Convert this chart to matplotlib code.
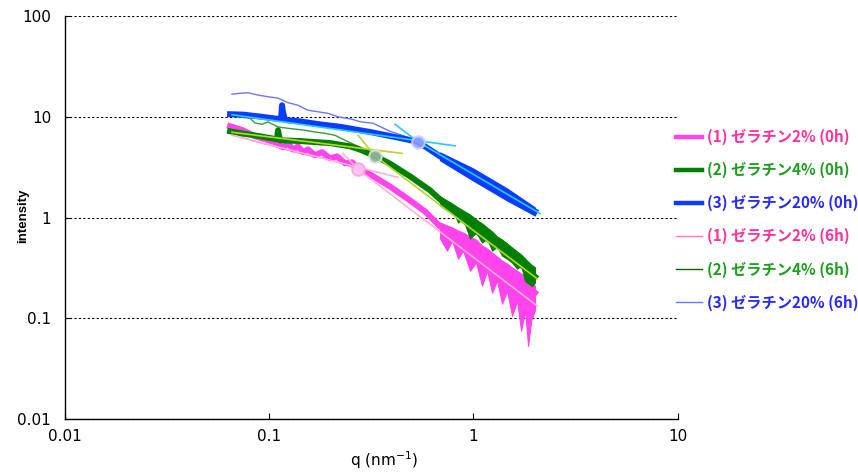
import numpy as np
import matplotlib
matplotlib.use("Agg")
import matplotlib.pyplot as plt
from matplotlib.font_manager import FontProperties

# ---------------- data (q in nm^-1, intensity) ----------------
# (3) 20% 0h
q_b0 = [0.0643, 0.0744, 0.0882, 0.1142, 0.1155, 0.1168, 0.1195, 0.1415, 0.1773, 0.2222,
        0.3116, 0.4370, 0.5355, 0.6863, 0.8598, 1.0773, 1.4606, 2.0]
i_b0 = [10.6, 10.5, 10.1, 9.44, 13.0, 11.1, 9.3, 9.0, 8.4, 7.95,
        7.06, 6.15, 5.64, 4.04, 3.14, 2.44, 1.69, 1.15]
# (2) 4% 0h
q_g0 = [0.0643, 0.0744, 0.0901, 0.1092, 0.1104, 0.1129, 0.1415, 0.1985, 0.2487, 0.2784,
        0.3297, 0.3904, 0.4893, 0.6131, 0.6863, 0.8598, 0.9955, 1.4606, 2.0]
i_g0 = [7.17, 6.81, 6.40, 5.97, 7.34, 5.84, 5.74, 5.48, 5.09, 4.72,
        4.07, 3.42, 2.56, 1.86, 1.51, 1.01, 0.777, 0.449, 0.259]
# (1) 2% 0h
q_p0 = [0.0643, 0.0744, 0.0852, 0.0954, 0.1067, 0.1168, 0.1236, 0.1308, 0.1384, 0.1464,
        0.1549, 0.1676, 0.1814, 0.1985, 0.2148, 0.2350, 0.2544, 0.2722, 0.3116, 0.3488,
        0.3904, 0.4893, 0.5794, 0.6863, 0.8598, 1.0773, 1.4606, 2.0]
i_p0 = [8.05, 7.34, 6.40, 5.97, 5.57, 4.97, 5.45, 4.74, 5.08, 4.46,
        4.74, 4.14, 4.46, 3.86, 4.05, 3.45, 3.53, 3.07, 2.68, 2.33,
        2.03, 1.476, 1.148, 0.814, 0.618, 0.469, 0.284, 0.179]

# 6h curves
q_p6 = [0.0643, 0.0761, 0.0882, 0.1067, 0.1293, 0.1549, 0.1876, 0.2273, 0.2722, 0.3488,
        0.4893, 0.6863, 1.0773, 2.0]
i_p6 = [7.34, 6.11, 5.57, 5.08, 4.54, 4.14, 3.86, 3.45, 3.0, 2.33,
        1.476, 0.814, 0.469, 0.179]
q_g6 = [0.0643, 0.0680, 0.0805, 0.0852, 0.0922, 0.0987, 0.1104, 0.1236, 0.1497, 0.1676,
        0.1876, 0.2100, 0.2350, 0.2784, 0.3297, 0.4893, 0.6863, 0.9955, 1.4606, 2.0]
i_g6 = [10.35, 10.1, 9.66, 8.67, 8.42, 8.88, 7.92, 7.68, 7.34, 7.06,
        6.85, 6.54, 5.84, 4.97, 4.14, 2.56, 1.51, 0.777, 0.449, 0.259]
q_b6 = [0.0657, 0.0719, 0.0787, 0.0882, 0.0987, 0.1104, 0.1236, 0.1384, 0.1549, 0.1734,
        0.1941, 0.2172, 0.2544, 0.2784, 0.3224, 0.3904, 0.4624, 0.5477, 0.6863, 1.0773, 2.0]
i_b6 = [16.75, 17.1, 17.3, 16.4, 15.8, 15.3, 13.8, 13.0, 11.6, 11.2,
        10.8, 10.0, 9.44, 8.92, 8.62, 7.17, 6.40, 5.57, 4.04, 2.44, 1.15]

# noisy high-q scatter envelopes
q_tail = [0.6863, 0.7424, 0.7856, 0.8406, 0.8894, 0.9624, 1.0297, 1.1019, 1.1657, 1.2334,
          1.3049, 1.3806, 1.4606, 1.5453, 1.6352, 1.7107, 1.7894, 1.8511, 1.9149, 2.0]
p_hi = [0.892, 0.833, 0.795, 0.742, 0.709, 0.647, 0.604, 0.526, 0.491, 0.449,
        0.409, 0.373, 0.349, 0.318, 0.297, 0.277, 0.259, 0.236, 0.2205, 0.21]
p_lo = [0.618, 0.469, 0.590, 0.391, 0.469, 0.297, 0.357, 0.2106, 0.297, 0.1794,
        0.236, 0.1394, 0.1878, 0.1059, 0.1493, 0.0751, 0.1187, 0.0532, 0.0944, 0.12]
g_hi = [1.618, 1.476, 1.378, 1.257, 1.174, 1.071, 0.955, 0.872, 0.795, 0.726,
        0.647, 0.604, 0.551, 0.503, 0.459, 0.429, 0.391, 0.365, 0.341, 0.32]
g_lo = [1.316, 1.174, 1.229, 0.892, 0.977, 0.618, 0.709, 0.564, 0.618, 0.469,
        0.515, 0.419, 0.391, 0.357, 0.311, 0.333, 0.236, 0.2106, 0.201, 0.226]
q_btail = [0.6863, 0.9955, 1.4606, 2.0]
b_hi = [4.43, 3.07, 1.94, 1.258]
b_lo = [3.69, 2.33, 1.476, 1.047]

# fit lines (low-q and high-q) and crossover points
fit_b_lo = ([0.0657, 0.8126], [10.47, 5.14])
fit_b_hi = ([0.4131, 0.5355, 2.119], [8.42, 5.64, 1.096])
fit_g_lo = ([0.0657, 0.4470], [7.01, 4.33])
fit_g_hi = ([0.2722, 0.3297, 2.049], [6.55, 4.09, 0.247])
fit_p_lo = ([0.0657, 0.4273], [6.55, 2.50])
fit_p_hi = ([0.2298, 0.2722, 2.049], [4.33, 3.0, 0.133])
cross_q = [0.2722, 0.3297, 0.5355]
cross_i = [3.0, 4.09, 5.64]

labels = ["(1) ゼラチン2% (0h)", "(2) ゼラチン4% (0h)", "(3) ゼラチン20% (0h)",
          "(1) ゼラチン2% (6h)", "(2) ゼラチン4% (6h)", "(3) ゼラチン20% (6h)"]
xticks = [0.01, 0.1, 1, 10]
xticklabels = ["0.01", "0.1", "1", "10"]
yticks = [0.01, 0.1, 1, 10, 100]
yticklabels = ["0.01", "0.1", "1", "10", "100"]

# ---------------- styling ----------------
C_P0, C_G0, C_B0 = "#ff44ee", "#008000", "#0a3cff"
C_P6, C_G6, C_B6 = "#ff78dc", "#3c9a3c", "#7272ff"
T_P, T_G, T_B = "#ff3399", "#1f9e1f", "#2a2aff"

fig = plt.figure(figsize=(8.58, 4.75), dpi=100)
ax = fig.add_axes([65 / 858, 1 - 419 / 475, (677.7 - 65) / 858, (419 - 16) / 475])
ax.set_xscale("log")
ax.set_yscale("log")
ax.set_xlim(0.01, 10)
ax.set_ylim(0.01, 100)

# noise envelopes
ax.fill_between(q_tail, p_lo, p_hi, color=C_P0, lw=0.8, zorder=2)
ax.fill_between(q_tail, g_lo, g_hi, color=C_G0, lw=0.8, zorder=2.1)
ax.fill_between(q_btail, b_lo, b_hi, color=C_B0, lw=0.8, zorder=2.2)

l6p, = ax.plot(q_p6, i_p6, color=C_P6, lw=1.0, zorder=2.5)
l6g, = ax.plot(q_g6, i_g6, color=C_G6, lw=1.0, zorder=2.5)
l6b, = ax.plot(q_b6, i_b6, color=C_B6, lw=1.0, zorder=2.5)

l0p, = ax.plot(q_p0, i_p0, color=C_P0, lw=4.3, zorder=3, solid_joinstyle="round")
l0g, = ax.plot(q_g0, i_g0, color=C_G0, lw=4.3, zorder=3.1, solid_joinstyle="round")
l0b, = ax.plot(q_b0, i_b0, color=C_B0, lw=4.3, zorder=3.2, solid_joinstyle="round")

for (fq, fi), c in [(fit_p_lo, "#ffb0d4"), (fit_p_hi, "#ffb0d4"),
                    (fit_g_lo, "#b8d430"), (fit_g_hi, "#b8d430"),
                    (fit_b_lo, "#22ccff"), (fit_b_hi, "#22ccff")]:
    ax.plot(fq, fi, color=c, lw=1.2, zorder=4)

faces = ["#ffc8f0", "#8fb49a", "#8c9cff"]
edges = ["#ffa0e6", "#d4e4d4", "#c8d0ff"]
for k in range(3):
    ax.plot([cross_q[k]], [cross_i[k]], marker="o", ms=9, mfc=faces[k], mec=edges[k],
            mew=1.5, ls="none", zorder=5, alpha=0.9)

ax.set_xticks(xticks)
ax.set_xticklabels(xticklabels)
ax.set_yticks(yticks)
ax.set_yticklabels(yticklabels)
ax.minorticks_off()
ax.tick_params(axis="both", direction="in", length=4, width=0.8, labelsize=11,
               colors="black")
ax.tick_params(axis="y", pad=10)
ax.tick_params(axis="x", pad=7)
ax.grid(axis="y", color="black", linestyle=(0, (2, 2)), linewidth=0.8)
ax.set_axisbelow(True)
for s in ["top", "right"]:
    ax.spines[s].set_visible(False)
for s in ["left", "bottom"]:
    ax.spines[s].set_linewidth(1.0)

ax.set_xlabel("q (nm$^{-1}$)", fontsize=11)
ax.xaxis.set_label_coords((384 - 65) / 612.7, -0.075)
ax.set_ylabel("intensity", fontsize=9.5, family="Liberation Sans", weight="bold")
ax.yaxis.set_label_coords((29 - 65) / 612.7, 0.504)

prop = FontProperties(family=["Noto Sans CJK JP", "DejaVu Sans"], weight="bold", size=11)
leg = ax.legend([l0p, l0g, l0b, l6p, l6g, l6b], labels, loc="upper left",
                bbox_to_anchor=(676 / 858, 1 - 129 / 475), bbox_transform=fig.transFigure,
                frameon=False, handlelength=1.7, handletextpad=0.35, labelspacing=1.1,
                borderpad=0, borderaxespad=0, prop=prop)
tcols = [T_P, T_G, T_B, T_P, T_G, T_B]
for t, c in zip(leg.get_texts(), tcols):
    t.set_color(c)
for h in leg.legend_handles[:3]:
    h.set_linewidth(3.2)
leg.legend_handles[4].set_color("#006400")

fig.savefig("out.png", dpi=100)
